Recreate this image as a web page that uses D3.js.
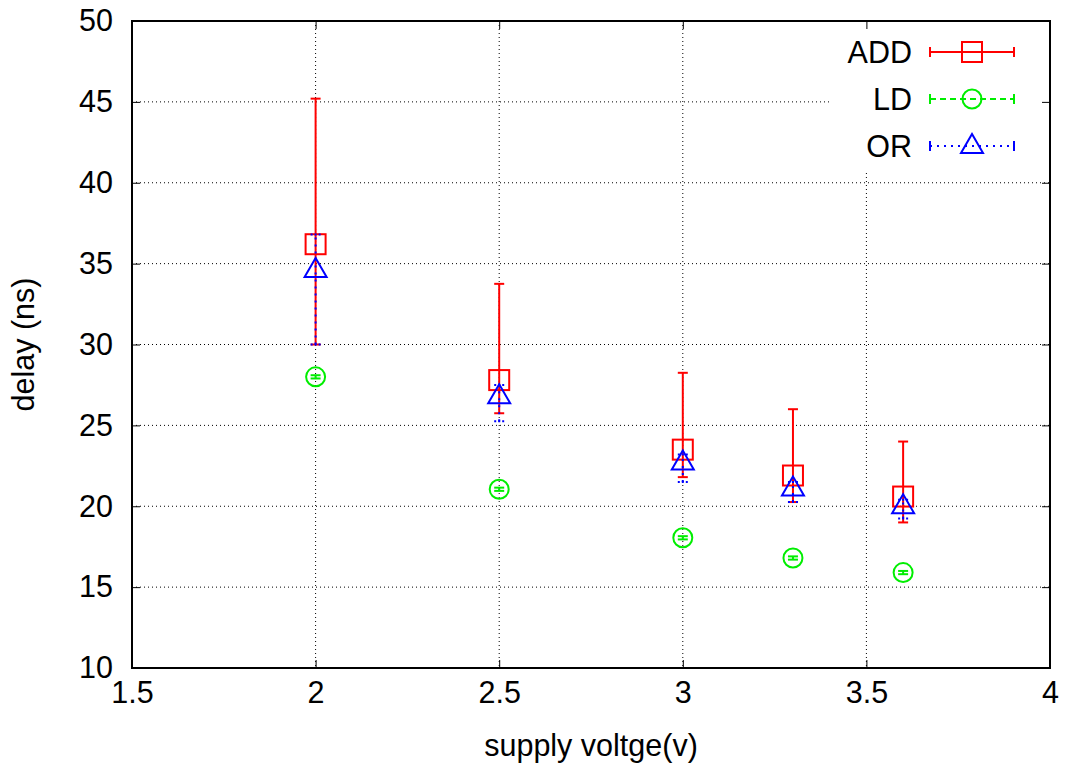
<!DOCTYPE html>
<html><head><meta charset="utf-8">
<script src="https://cdn.jsdelivr.net/npm/d3@7"></script>
<style>body{margin:0;background:#fff}svg{display:block}text{font-family:"Liberation Sans",Arial,sans-serif}</style>
</head><body><svg id="c" width="1068" height="769"></svg>
<script>
const voltages = [2, 2.5, 3, 3.3, 3.6];
const addVal = [36.2, 27.8, 23.5, 21.9, 20.6];
const addLow = [30.0, 25.75, 21.8, 20.26, 19.0];
const addHigh = [45.2, 33.75, 28.25, 26.0, 24.0];
const ldVal = [28.0, 21.05, 18.05, 16.8, 15.9];
const ldLow = [27.9, 20.95, 17.95, 16.7, 15.8];
const ldHigh = [28.1, 21.15, 18.15, 16.9, 16.0];
const orVal = [34.6, 26.8, 22.7, 21.1, 20.0];
const orLow = [30.0, 25.25, 21.5, 20.26, 19.25];
const orHigh = [36.8, 27.5, 23.2, 21.5, 20.4];
const xTicks = [1.5, 2, 2.5, 3, 3.5, 4];
const yTicks = [10, 15, 20, 25, 30, 35, 40, 45, 50];
const seriesNames = ["ADD", "LD", "OR"];

const FS = 30.5;
const svg = d3.select("#c");
const L = 132, R = 1050, T = 21, B = 668;
const x = d3.scaleLinear().domain([1.5, 4]).range([L, R]);
const y = d3.scaleLinear().domain([10, 50]).range([B, T]);

// grid
const g = svg.append("g");
g.selectAll(".gx").data(xTicks.slice(1, -1)).enter().append("line")
  .attr("x1", d => x(d)).attr("x2", d => x(d)).attr("y1", T).attr("y2", B)
  .attr("stroke", "#000").attr("stroke-width", 1).attr("stroke-dasharray", "1,3");
g.selectAll(".gy").data(yTicks.slice(1, -1)).enter().append("line")
  .attr("x1", L).attr("x2", R).attr("y1", d => y(d)).attr("y2", d => y(d))
  .attr("stroke", "#000").attr("stroke-width", 1).attr("stroke-dasharray", "1,3");

// legend background (opaque key box)
svg.append("rect").attr("x", 830).attr("y", T + 1).attr("width", R - 831).attr("height", 148).attr("fill", "#fff");

// axes
const axB = d3.axisBottom(x).tickValues(xTicks).tickSize(-8).tickPadding(13).tickFormat(d3.format("~g"));
const axT = d3.axisTop(x).tickValues(xTicks).tickSize(-8).tickFormat("");
const axL = d3.axisLeft(y).tickValues(yTicks).tickSize(-8).tickPadding(19).tickFormat(d3.format("~g"));
const axR = d3.axisRight(y).tickValues(yTicks).tickSize(-8).tickFormat("");
function style(sel) {
  sel.attr("font-size", null).attr("font-family", null);
  sel.select(".domain").remove();
  sel.selectAll("line").attr("stroke", "#000").attr("stroke-width", 1);
  sel.selectAll("text").attr("fill", "#000").style("font-size", FS + "px").style("font-family", '"Liberation Sans",Arial,sans-serif');
}
svg.append("g").attr("transform", `translate(0,${B})`).call(axB).call(style);
svg.append("g").attr("transform", `translate(0,${T})`).call(axT).call(style);
svg.append("g").attr("transform", `translate(${L},0)`).call(axL).call(style);
svg.append("g").attr("transform", `translate(${R},0)`).call(axR).call(style);
svg.append("rect").attr("x", L).attr("y", T).attr("width", R - L).attr("height", B - T)
  .attr("fill", "none").attr("stroke", "#000").attr("stroke-width", 2);

// labels
svg.append("text").attr("x", 591).attr("y", 756).attr("text-anchor", "middle")
  .style("font-size", FS + "px").text("supply voltge(v)");
svg.append("text").attr("transform", `translate(34,${(T + B) / 2}) rotate(-90)`).attr("text-anchor", "middle")
  .style("font-size", FS + "px").text("delay (ns)");

const series = [
  {name: "ADD", val: addVal, lo: addLow, hi: addHigh, color: "#ff0000", dash: null, shape: "square"},
  {name: "LD", val: ldVal, lo: ldLow, hi: ldHigh, color: "#00ee00", dash: "6,4", shape: "circle"},
  {name: "OR", val: orVal, lo: orLow, hi: orHigh, color: "#0000ff", dash: "2,5", shape: "triangle"}
];

function drawShape(sel, shape, cx, cy, color) {
  if (shape === "square") {
    sel.append("rect").attr("x", cx - 10).attr("y", cy - 10).attr("width", 20).attr("height", 20)
      .attr("fill", "none").attr("stroke", color).attr("stroke-width", 2);
  } else if (shape === "circle") {
    sel.append("circle").attr("cx", cx).attr("cy", cy).attr("r", 9.5)
      .attr("fill", "none").attr("stroke", color).attr("stroke-width", 2);
  } else {
    sel.append("path").attr("d", `M${cx - 11},${cy + 7}L${cx + 11},${cy + 7}L${cx},${cy - 12}Z`)
      .attr("fill", "none").attr("stroke", color).attr("stroke-width", 2);
  }
}

series.forEach(s => {
  const gs = svg.append("g");
  voltages.forEach((v, i) => {
    const cx = x(v);
    gs.append("line").attr("x1", cx).attr("x2", cx).attr("y1", y(s.lo[i])).attr("y2", y(s.hi[i]))
      .attr("stroke", s.color).attr("stroke-width", 2).attr("stroke-dasharray", s.dash);
    [s.lo[i], s.hi[i]].forEach(e => {
      gs.append("line").attr("x1", cx - 5).attr("x2", cx + 5).attr("y1", y(e)).attr("y2", y(e))
        .attr("stroke", s.color).attr("stroke-width", 2).attr("stroke-dasharray", s.dash === "2,5" ? "2,2" : null);
    });
    drawShape(gs, s.shape, cx, y(s.val[i]), s.color);
  });
});

// legend
series.forEach((s, k) => {
  const ly = 52 + k * 47;
  svg.append("text").attr("x", 912).attr("y", ly + 11).attr("text-anchor", "end").style("font-size", FS + "px").text(s.name);
  const lg = svg.append("g");
  lg.append("line").attr("x1", 930).attr("x2", 1014).attr("y1", ly).attr("y2", ly)
    .attr("stroke", s.color).attr("stroke-width", 2).attr("stroke-dasharray", s.dash);
  [930, 1014].forEach(xx => lg.append("line").attr("x1", xx).attr("x2", xx).attr("y1", ly - 5).attr("y2", ly + 5)
    .attr("stroke", s.color).attr("stroke-width", 2));
  drawShape(lg, s.shape, 972, ly, s.color);
});
</script></body></html>
